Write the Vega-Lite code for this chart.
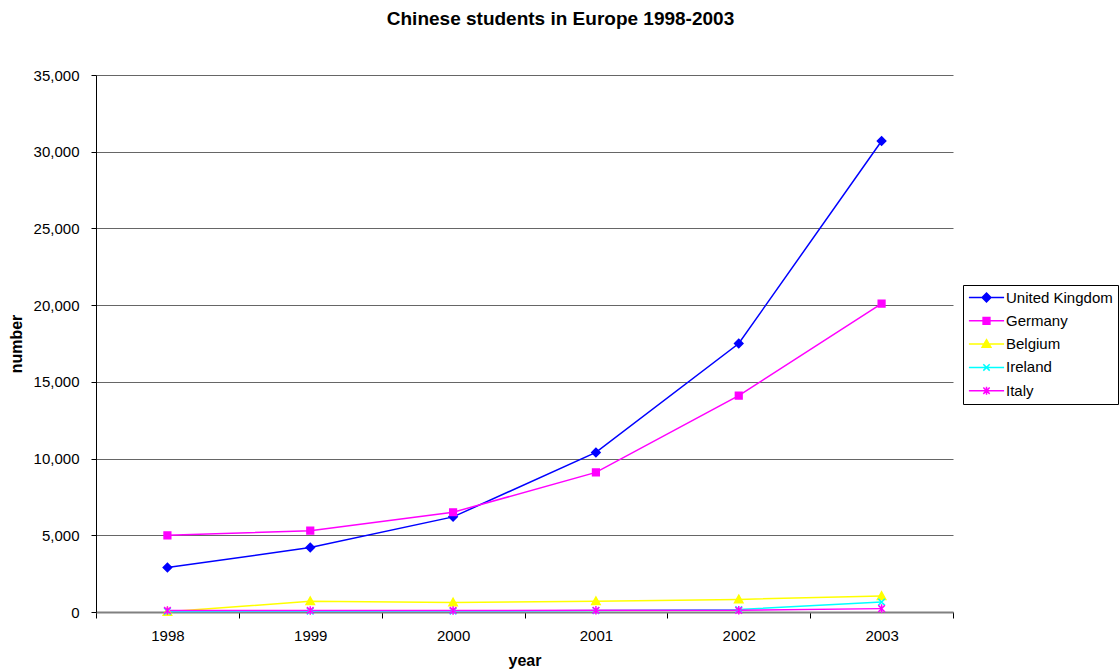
{
  "$schema": "https://vega.github.io/schema/vega-lite/v6.json",
  "description": "Chinese students in Europe 1998-2003",
  "width": 857,
  "height": 537,
  "autosize": {"type": "none"},
  "padding": {"left": 96, "top": 75, "right": 167, "bottom": 58},
  "background": "white",
  "config": {
    "font": "Liberation Sans",
    "view": {"stroke": null},
    "axis": {"labelFont": "Liberation Sans", "titleFont": "Liberation Sans", "labelColor": "#000", "titleColor": "#000"}
  },
  "title": {
    "text": "Chinese students in Europe 1998-2003",
    "fontSize": 19,
    "fontWeight": "bold",
    "color": "#000",
    "anchor": "middle",
    "frame": "group",
    "dx": 36,
    "offset": 39
  },
  "data": {
    "values": [
      {"year": "1998", "country": "United Kingdom", "number": 2900},
      {"year": "1999", "country": "United Kingdom", "number": 4200},
      {"year": "2000", "country": "United Kingdom", "number": 6200},
      {"year": "2001", "country": "United Kingdom", "number": 10400},
      {"year": "2002", "country": "United Kingdom", "number": 17500},
      {"year": "2003", "country": "United Kingdom", "number": 30700},
      {"year": "1998", "country": "Germany", "number": 5000},
      {"year": "1999", "country": "Germany", "number": 5300},
      {"year": "2000", "country": "Germany", "number": 6500},
      {"year": "2001", "country": "Germany", "number": 9100},
      {"year": "2002", "country": "Germany", "number": 14100},
      {"year": "2003", "country": "Germany", "number": 20100},
      {"year": "1998", "country": "Belgium", "number": 10},
      {"year": "1999", "country": "Belgium", "number": 700},
      {"year": "2000", "country": "Belgium", "number": 620},
      {"year": "2001", "country": "Belgium", "number": 700},
      {"year": "2002", "country": "Belgium", "number": 820},
      {"year": "2003", "country": "Belgium", "number": 1040},
      {"year": "1998", "country": "Ireland", "number": 40},
      {"year": "1999", "country": "Ireland", "number": 50},
      {"year": "2000", "country": "Ireland", "number": 60},
      {"year": "2001", "country": "Ireland", "number": 90},
      {"year": "2002", "country": "Ireland", "number": 160},
      {"year": "2003", "country": "Ireland", "number": 650},
      {"year": "1998", "country": "Italy", "number": 100},
      {"year": "1999", "country": "Italy", "number": 100},
      {"year": "2000", "country": "Italy", "number": 100},
      {"year": "2001", "country": "Italy", "number": 110},
      {"year": "2002", "country": "Italy", "number": 110},
      {"year": "2003", "country": "Italy", "number": 220}
    ]
  },
  "encoding": {
    "x": {
      "field": "year",
      "type": "ordinal",
      "bandPosition": 0.5,
      "scale": {"type": "band", "paddingInner": 0, "paddingOuter": 0},
      "axis": {
        "title": "year",
        "titleFontSize": 16,
        "titleFontWeight": "bold",
        "titlePadding": 9,
        "labelFontSize": 15,
        "labelAngle": 0,
        "labelPadding": 10,
        "tickBand": "extent",
        "tickSize": 6,
        "tickColor": "#000",
        "domainColor": "#808080",
        "domainWidth": 2,
        "grid": false
      }
    },
    "y": {
      "field": "number",
      "type": "quantitative",
      "scale": {"domain": [0, 35000], "nice": false},
      "axis": {
        "title": "number",
        "titleFontSize": 16,
        "titleFontWeight": "bold",
        "titlePadding": 9,
        "labelFontSize": 15,
        "labelPadding": 12,
        "values": [0, 5000, 10000, 15000, 20000, 25000, 30000, 35000],
        "format": ",d",
        "tickSize": 5,
        "tickColor": "#000",
        "domainColor": "#000",
        "gridColor": "#666",
        "gridOpacity": 1
      }
    }
  },
  "layer": [
    {
      "mark": {"type": "line", "strokeWidth": 1.5},
      "encoding": {
        "color": {
          "field": "country",
          "type": "nominal",
          "sort": ["United Kingdom", "Germany", "Belgium", "Ireland", "Italy"],
          "scale": {
            "domain": ["United Kingdom", "Germany", "Belgium", "Ireland", "Italy"],
            "range": ["#0000ff", "#ff00ff", "#ffff00", "#00ffff", "#ff00ff"]
          },
          "legend": {
            "title": null,
            "orient": "none",
            "legendX": 867,
            "legendY": 210,
            "padding": 5,
            "fillColor": "white",
            "strokeColor": "#000",
            "cornerRadius": 0,
            "labelFont": "Liberation Sans",
            "labelFontSize": 15,
            "labelColor": "#000",
            "symbolSize": 64,
            "symbolOffset": 11,
            "labelOffset": 12,
            "rowPadding": 7.3,
            "encode": {
              "symbols": {
                "update": {
                  "shape": {"signal": "{'United Kingdom': 'M-4.4,0L4.4,0M0,-1.1L1.1,0L0,1.1L-1.1,0Z', 'Germany': 'M-4.4,0L4.4,0M-0.85,-0.85L0.85,-0.85L0.85,0.85L-0.85,0.85Z', 'Belgium': 'M-4.4,0L4.4,0M0,-1.1L1.1,0.8L-1.1,0.8Z', 'Ireland': 'M-4.4,0L4.4,0M-0.8,-0.8L0.8,0.8M-0.8,0.8L0.8,-0.8', 'Italy': 'M-4.4,0L4.4,0M-0.8,-0.8L0.8,0.8M-0.8,0.8L0.8,-0.8M0,-1L0,1'}[datum.value]"},
                  "fill": {"signal": "{'United Kingdom': '#0000ff', 'Germany': '#ff00ff', 'Belgium': '#ffff00', 'Ireland': '#00ffff', 'Italy': '#ff00ff'}[datum.value]"},
                  "stroke": {"signal": "{'United Kingdom': '#0000ff', 'Germany': '#ff00ff', 'Belgium': '#ffff00', 'Ireland': '#00ffff', 'Italy': '#ff00ff'}[datum.value]"},
                  "strokeWidth": {"value": 1.5},
                  "fillOpacity": {"value": 1},
                  "strokeOpacity": {"value": 1},
                  "opacity": {"value": 1}
                }
              }
            }
          }
        }
      }
    },
    {
      "transform": [{"filter": "datum.country === 'United Kingdom'"}],
      "mark": {"type": "point", "filled": true, "opacity": 1, "color": "#0000ff", "stroke": "#0000ff", "strokeWidth": 1.5, "size": 70, "shape": "M0,-1L1,0L0,1L-1,0Z"},
      "encoding": {}
    },
    {
      "transform": [{"filter": "datum.country === 'Germany'"}],
      "mark": {"type": "point", "filled": true, "opacity": 1, "color": "#ff00ff", "stroke": "#ff00ff", "strokeWidth": 1.5, "size": 70, "shape": "M-0.8,-0.8L0.8,-0.8L0.8,0.8L-0.8,0.8Z"},
      "encoding": {}
    },
    {
      "transform": [{"filter": "datum.country === 'Belgium'"}],
      "mark": {"type": "point", "filled": true, "opacity": 1, "color": "#ffff00", "stroke": "#ffff00", "strokeWidth": 1.5, "size": 70, "shape": "M0,-1L1,0.8L-1,0.8Z"},
      "encoding": {}
    },
    {
      "transform": [{"filter": "datum.country === 'Ireland'"}],
      "mark": {"type": "point", "filled": true, "opacity": 1, "color": "#00ffff", "stroke": "#00ffff", "strokeWidth": 1.5, "size": 90, "shape": "M-0.7,-0.7L0.7,0.7M-0.7,0.7L0.7,-0.7"},
      "encoding": {}
    },
    {
      "transform": [{"filter": "datum.country === 'Italy'"}],
      "mark": {"type": "point", "filled": true, "opacity": 1, "color": "#ff00ff", "stroke": "#ff00ff", "strokeWidth": 1.5, "size": 90, "shape": "M-0.7,-0.7L0.7,0.7M-0.7,0.7L0.7,-0.7M0,-0.9L0,0.9"},
      "encoding": {}
    }
  ]
}
